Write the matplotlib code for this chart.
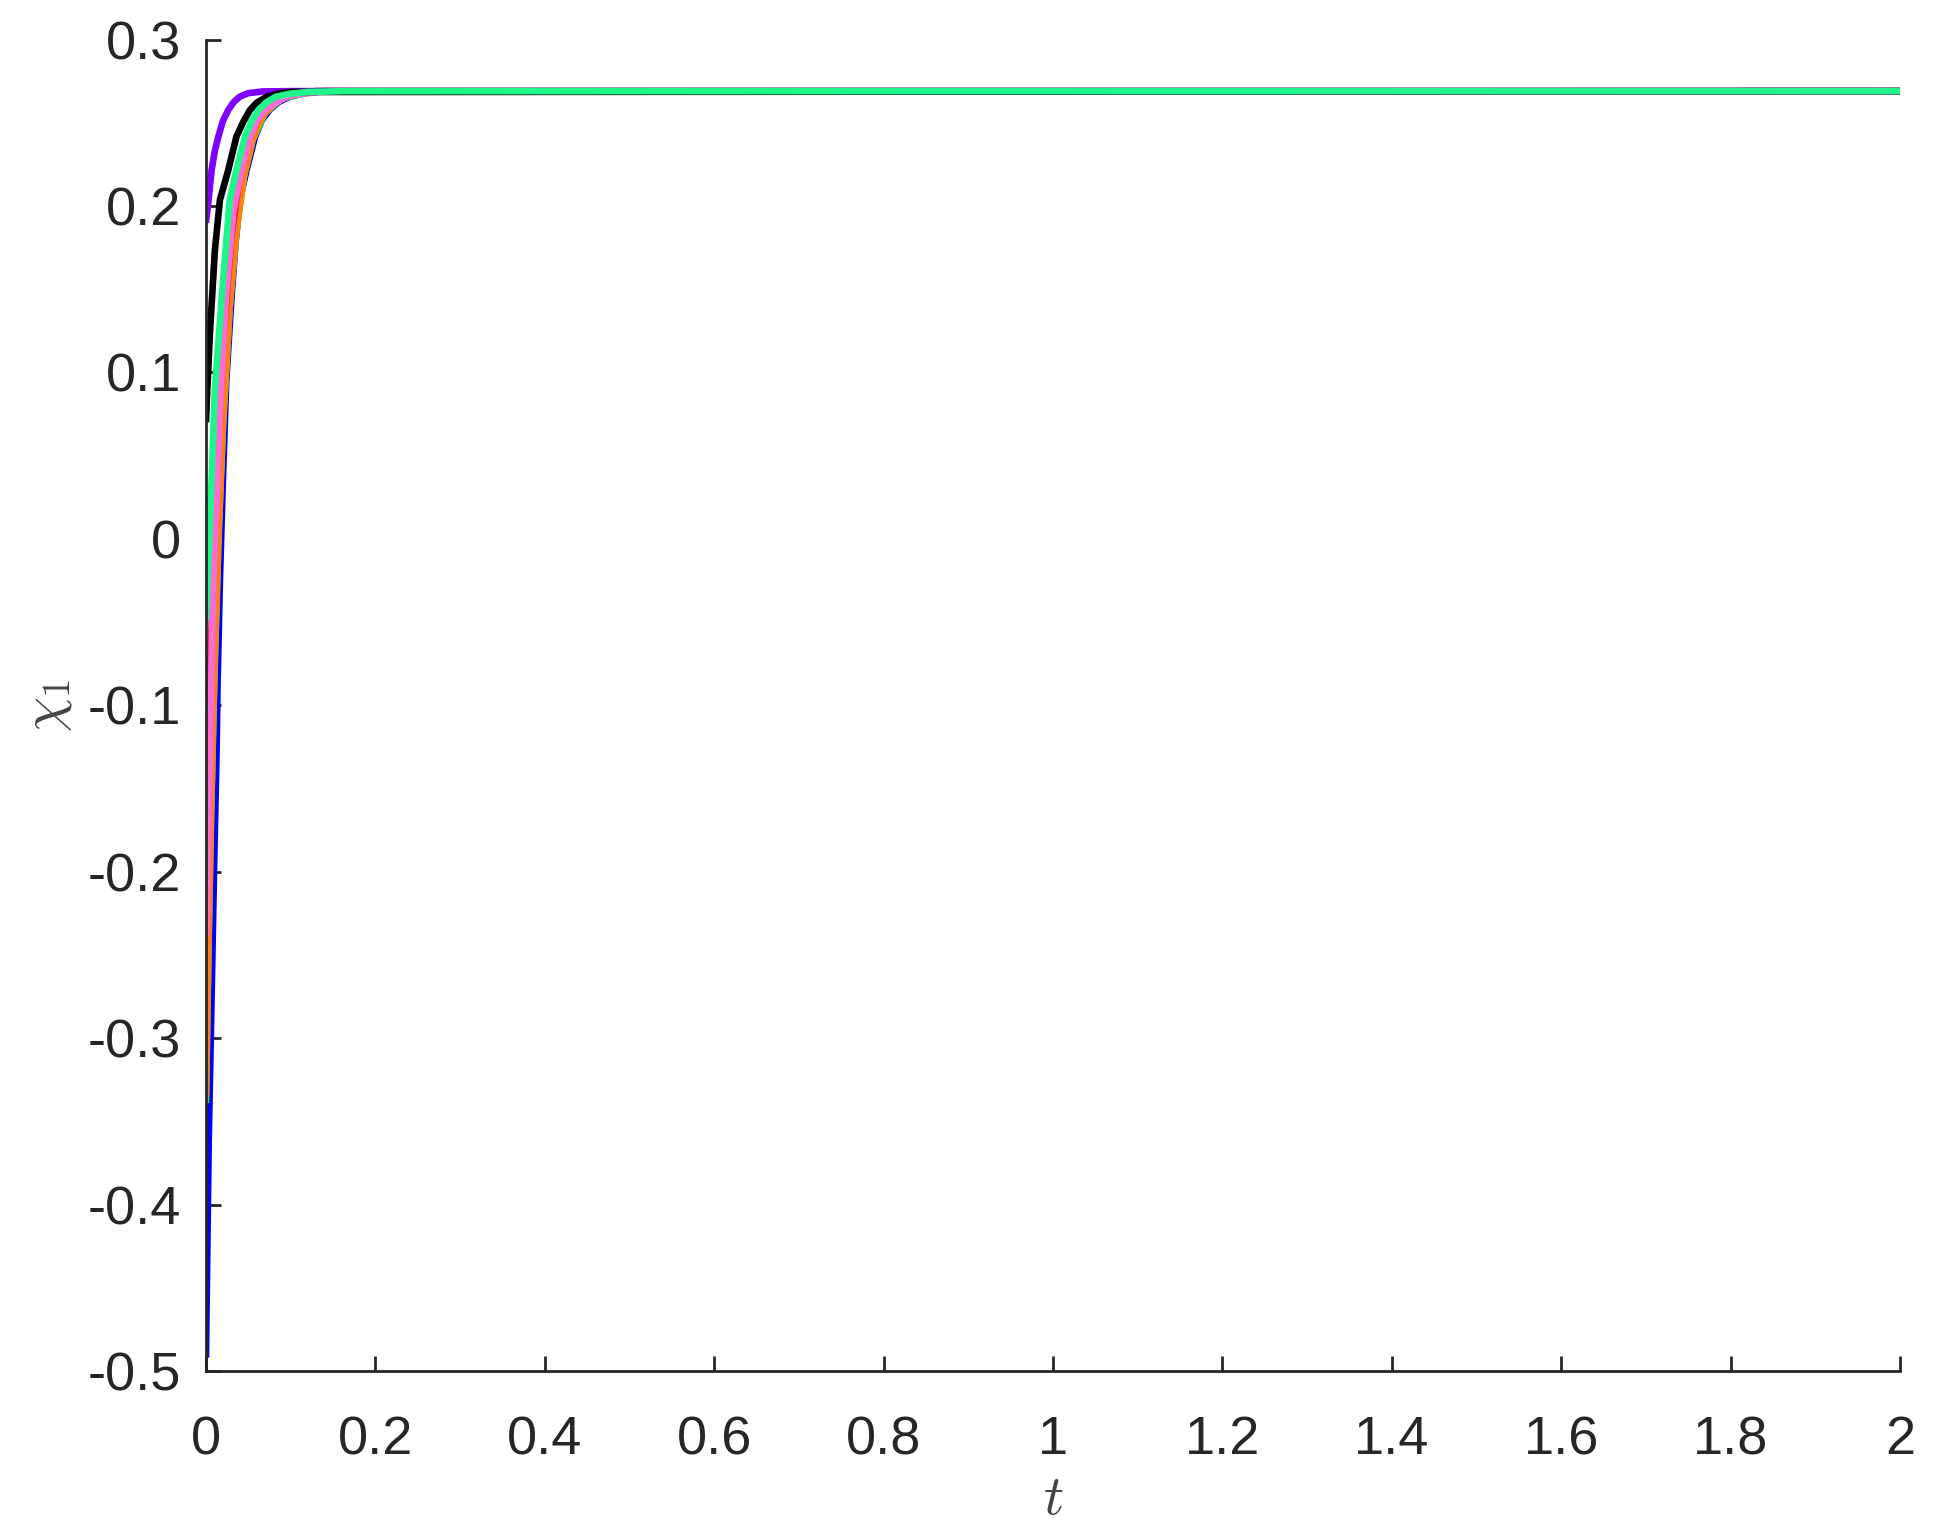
import numpy as np
import matplotlib
matplotlib.use("Agg")
import matplotlib.pyplot as plt

# curves: (t, chi_1) for each trajectory
t_blue = [0, 0.0033, 0.0057, 0.0098, 0.0126, 0.0138, 0.0165, 0.020, 0.024, 0.030,
          0.035, 0.040, 0.048, 0.058, 0.066, 0.075, 0.086, 0.099, 0.12, 0.14, 2]
y_blue = [-0.492, -0.361, -0.301, -0.193, -0.127, -0.085, -0.025, 0.035, 0.095, 0.1435,
          0.178, 0.2036, 0.2216, 0.2416, 0.2515, 0.2577, 0.2625, 0.2657, 0.2681, 0.269, 0.269]

t_lime = [0, 0.003, 0.006, 0.010, 0.015, 0.020, 0.028, 0.036, 0.045, 0.055, 0.070, 0.090, 0.13, 2]
y_lime = [-0.339, -0.246, -0.168, -0.082, 0.003, 0.066, 0.139, 0.185, 0.218, 0.2395, 0.256, 0.2647, 0.269, 0.269]

t_orange = [0, 0.003, 0.006, 0.010, 0.015, 0.020, 0.028, 0.036, 0.045, 0.055, 0.062, 0.070, 0.080,
            0.090, 0.11, 0.13, 2]
y_orange = [-0.335, -0.245, -0.167, -0.081, 0.004, 0.067, 0.139, 0.185, 0.218, 0.2395, 0.249, 0.256, 0.261,
            0.2647, 0.2678, 0.269, 0.269]

t_red = [0, 0.002, 0.005, 0.009, 0.014, 0.020, 0.030, 0.040, 0.050, 0.065, 0.090, 0.13, 2]
y_red = [-0.189, -0.142, -0.080, -0.011, 0.0565, 0.116, 0.181, 0.218, 0.240, 0.256, 0.2657, 0.269, 0.269]

t_pink = [0, 0.0047, 0.0087, 0.0126, 0.017, 0.0234, 0.032, 0.042, 0.052, 0.060, 0.070, 0.085,
          0.10, 0.14, 2]
y_pink = [-0.239, -0.127, -0.025, 0.025, 0.0833, 0.1435, 0.196, 0.2216, 0.2416, 0.2510, 0.2577, 0.263,
          0.2665, 0.269, 0.269]

t_purple = [0, 0.0027, 0.0067, 0.0105, 0.0146, 0.020, 0.0264, 0.033, 0.040, 0.050, 0.067, 0.10, 2]
y_purple = [0.190, 0.2016, 0.2216, 0.2330, 0.2416, 0.2510, 0.2577, 0.2625, 0.2657, 0.2678, 0.2688, 0.269, 0.269]

t_black = [0, 0.001, 0.0047, 0.0106, 0.0165, 0.0264, 0.036, 0.044, 0.052, 0.060, 0.072, 0.085, 0.10, 2]
y_black = [0.070, 0.083, 0.1236, 0.1736, 0.2036, 0.2216, 0.2416, 0.2505, 0.2577, 0.2620, 0.2657, 0.2675, 0.2685, 0.269]

t_green = [0, 0.002, 0.0067, 0.0106, 0.0185, 0.028, 0.036, 0.046, 0.054, 0.062, 0.072, 0.083, 0.10,
           0.12, 0.165, 2]
y_green = [-0.049, -0.025, 0.0353, 0.090, 0.1435, 0.2036, 0.2216, 0.2416, 0.2510, 0.2577, 0.2625, 0.2657, 0.2675,
           0.2685, 0.269, 0.269]

xticks = [0, 0.2, 0.4, 0.6, 0.8, 1, 1.2, 1.4, 1.6, 1.8, 2]
xtick_labels = ["0", "0.2", "0.4", "0.6", "0.8", "1", "1.2", "1.4", "1.6", "1.8", "2"]
yticks = [-0.5, -0.4, -0.3, -0.2, -0.1, 0, 0.1, 0.2, 0.3]
ytick_labels = ["-0.5", "-0.4", "-0.3", "-0.2", "-0.1", "0", "0.1", "0.2", "0.3"]

plt.rcParams['font.family'] = ['Liberation Sans', 'DejaVu Sans']
plt.rcParams['mathtext.fontset'] = 'cm'

fig = plt.figure(figsize=(9.695, 7.695), dpi=200)
ax = fig.add_axes([0.1062, 0.1092, 0.8737, 0.8651])

curves = [
    (t_blue, y_blue, '#0000ff'),
    (t_lime, y_lime, '#22ee22'),
    (t_orange, y_orange, '#ff7f0e'),
    (t_red, y_red, '#e8283c'),
    (t_pink, y_pink, '#ff6ad5'),
    (t_purple, y_purple, '#8000ff'),
    (t_black, y_black, '#000000'),
    (t_green, y_green, '#1ff58a'),
]
for t, y, c in curves:
    ax.plot(t, y, color=c, lw=2.4, solid_joinstyle='round', solid_capstyle='butt')

ax.set_xlim(0, 2)
ax.set_ylim(-0.5, 0.3)
ax.set_xticks(xticks)
ax.set_xticklabels(xtick_labels)
ax.set_yticks(yticks)
ax.set_yticklabels(ytick_labels)

for s in ['top', 'right']:
    ax.spines[s].set_visible(False)
for s in ['left', 'bottom']:
    ax.spines[s].set_color('#262626')
    ax.spines[s].set_linewidth(1.0)
    ax.spines[s].set_capstyle('projecting')

ax.tick_params(direction='in', length=5.5, width=1.0, color='#262626',
               labelsize=19.5, labelcolor='#262626')
ax.tick_params(axis='x', pad=16)
ax.tick_params(axis='y', pad=9)

ax.set_xlabel(r'$t$', fontsize=20, color='#444444', labelpad=3)
ax.set_ylabel(r'$\chi_1$', fontsize=20, color='#444444', labelpad=5)

fig.savefig('out.png', dpi=200)
